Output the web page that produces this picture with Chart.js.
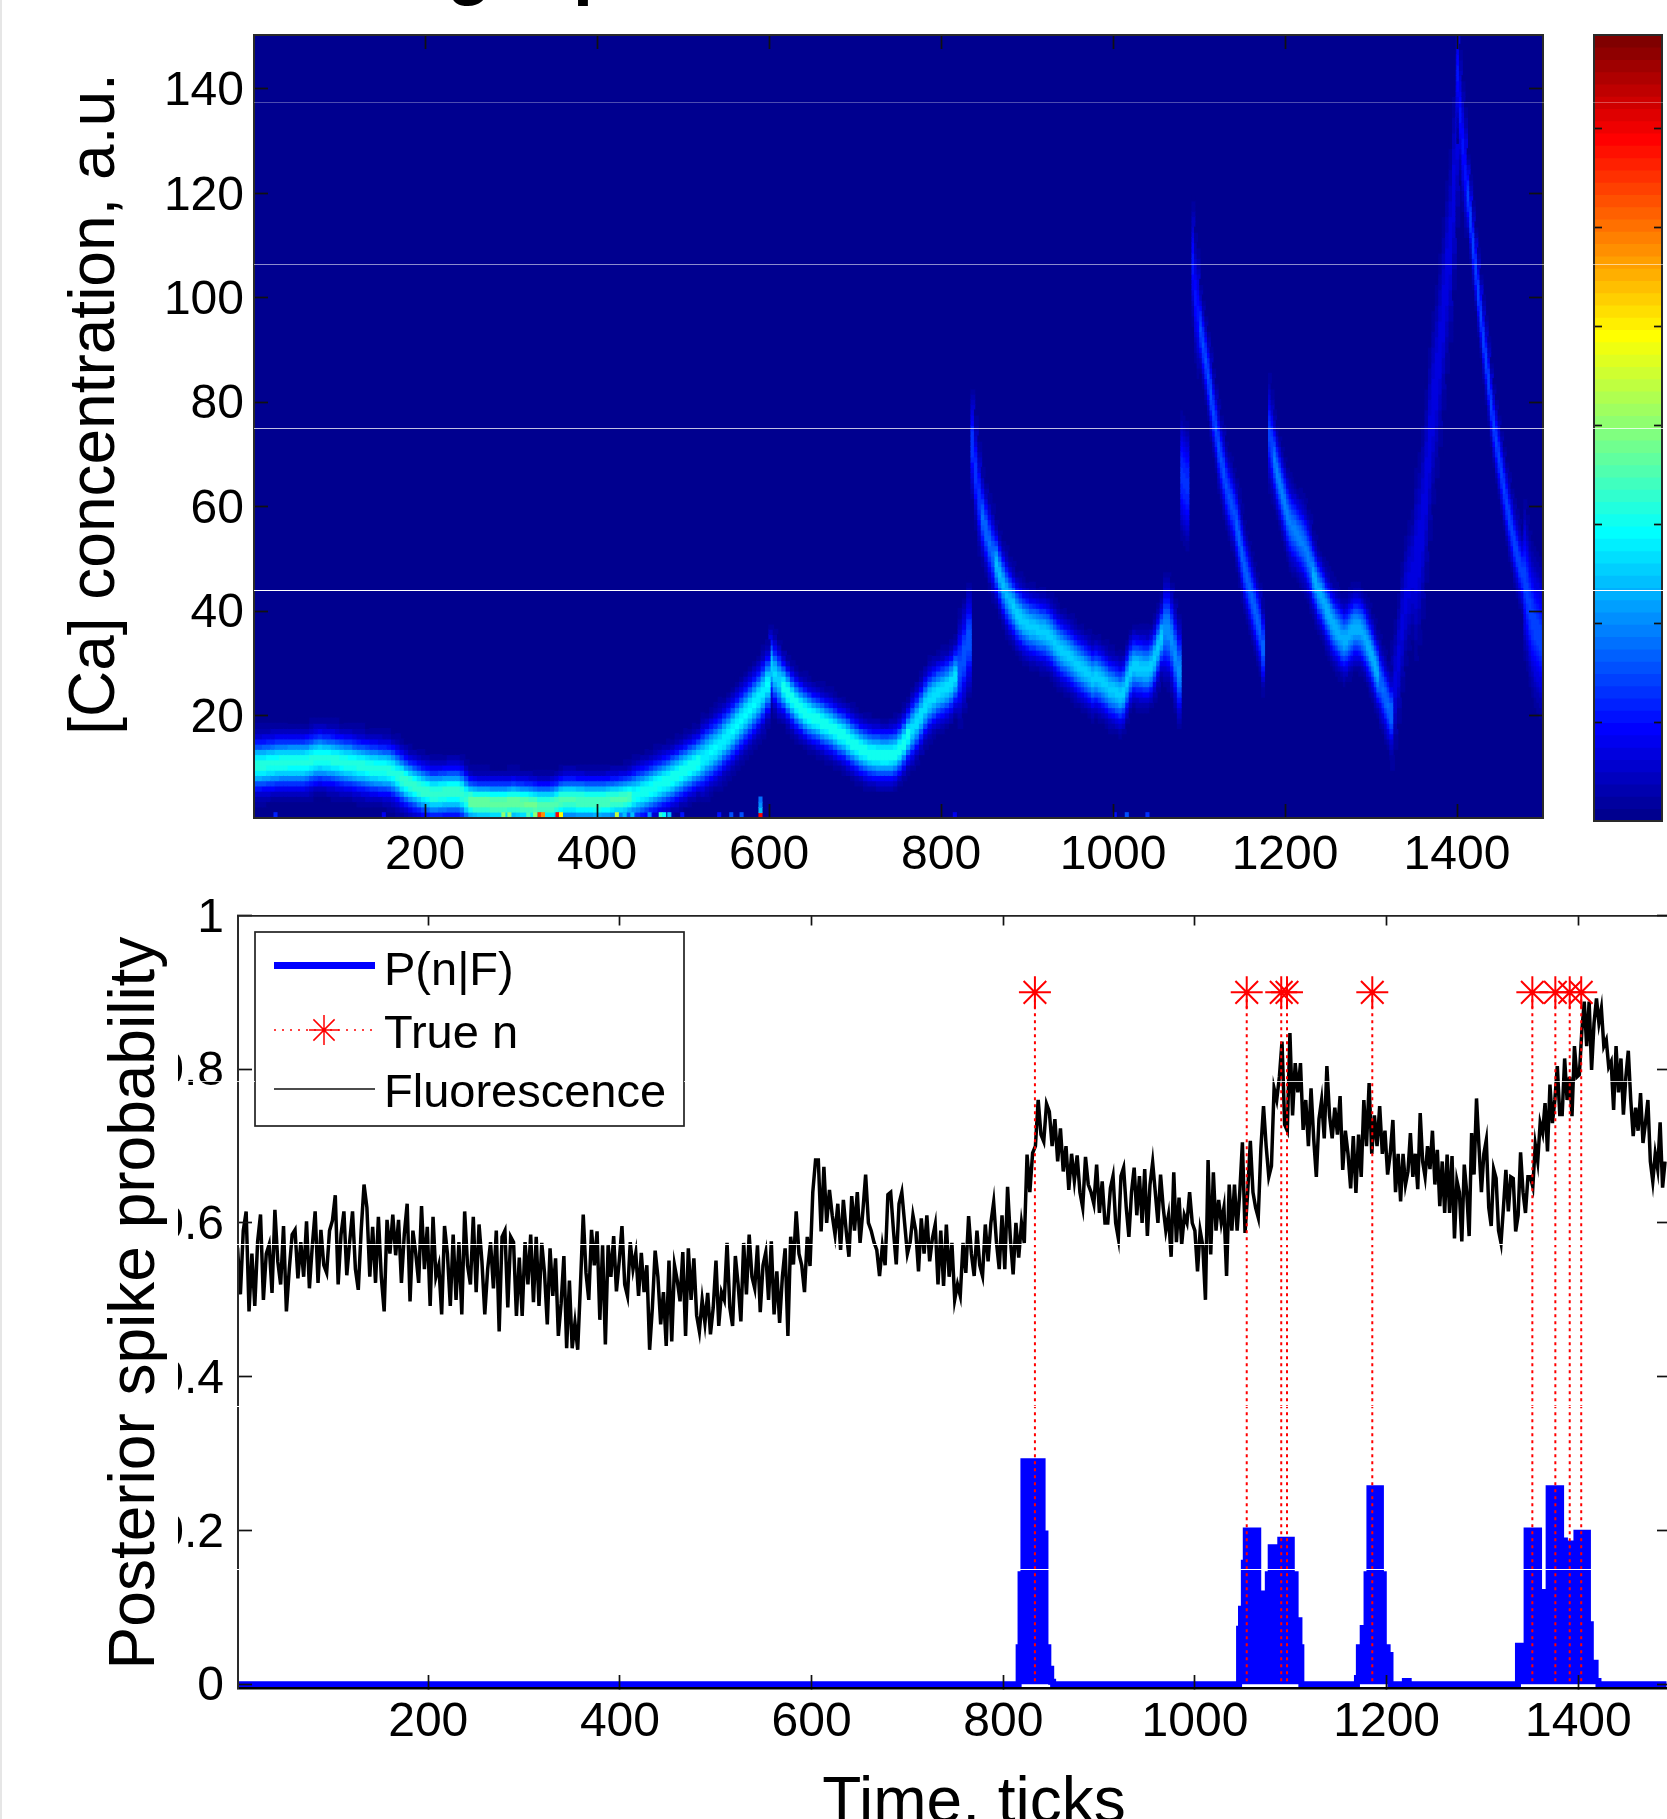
<!DOCTYPE html>
<html><head><meta charset="utf-8">
<style>
html,body{margin:0;padding:0;background:#fff;width:1667px;height:1819px;overflow:hidden;position:relative}
canvas{position:absolute;display:block;filter:blur(0.55px)}
.seam{position:absolute;height:1px;background:#fff}
#edge{position:absolute;left:0;top:0;width:2px;height:1819px;background:#e6e6e6}
</style>
<script src="https://cdn.jsdelivr.net/npm/chart.js"></script>
</head><body>
<canvas id="heat" width="1590" height="890" style="left:0;top:0"></canvas>
<canvas id="bar" width="77" height="890" style="left:1590px;top:0"></canvas>
<canvas id="post" width="1667" height="929" style="left:0;top:890px"></canvas>
<div id="edge"></div>
<script>
// ---------- top panel: axis labels ----------
const heatXTicks=[200,400,600,800,1000,1200,1400];
const heatYTicks=[20,40,60,80,100,120,140];
const colorbarTicks=[0.1,0.2,0.3,0.4,0.5,0.6,0.7];

// ---------- top panel: ridge of the posterior ----------
// each ridge: first tick, tick step, [Ca] at the ridge centre
const ridgeAStart=1, ridgeAStep=5;
const ridgeACa=[10.5,10.5,10.6,10.7,10.8,10.9,11,11,11.1,11.1,11.1,11.1,11.2,11.5,11.8,11.9,11.8,11.7,11.6,11.4,11.2,11,10.9,10.7,10.5,10.4,10.2,10,9.9,9.8,9.7,9.6,9.2,8.6,8,7.4,6.9,6.5,6.1,5.7,5.4,5.1,5.1,5.2,5.3,5.4,5.4,5.4,5,4.2,3.6,3.4,3.3,3.3,3.3,3.2,3.2,3.2,3.2,3.3,3.4,3.3,3.2,3.1,3,2.9,2.8,2.8,2.8,2.9,3.2,3.7,3.8,3.8,3.8,3.7,3.7,3.6,3.6,3.5,3.5,3.6,3.7,3.8,3.9,4,4.2,4.4,4.7,5,5.3,5.7,6.1,6.5,6.9,7.3,7.7,8.2,8.7,9.2,9.7,10.2,10.7,11.2,11.7,12.4,13.1,13.8,14.5,15.4,16.3,17.2,18.2,19.2,20.2,21.2,22.2,23.3,24.5,26];
const ridgeAUntil=[170,250,330,360,440,520,600], ridgeAPeak=[.40,.42,.47,.45,.44,.39,.36], ridgeASigma=[3,2.9,2.6,2.6,2.7,3,3.4];

const ridgeBStart=600, ridgeBStep=5;
const ridgeBCa=[29.5,27.8,26.6,25.5,24.3,23.2,22.2,21.4,20.7,20.1,19.6,19.2,18.7,18.2,17.8,17.2,16.6,16.2,15.5,14.8,14.2,13.6,13.2,12.8,12.6,12.5,12.4,12.4,12.5,12.8,13.6,14.8,16.2,17.5,18.8,20.2,21.8,23,23.8,24.4,24.9,25.4,26.2,27.4,29,31.5,34.5];
const ridgeBUntil=[612,730,760,818,835], ridgeBPeak=[.33,.39,.39,.34,.2], ridgeBSigma=[3.4,2.9,2.9,3.3,5];

const ridgeCStart=835, ridgeCStep=4;
const ridgeCCa=[72,66.5,61.5,58,55.5,53,51,49,47,45,43.4,42,40.8,39.6,38.7,38,37.5,37,36.8,36.5,36.2,36,35.5,34.8,34,33.2,32.5,32,31.4,30.8,30.2,29.6,29,28.4,27.8,27.2,27.4,27,26.4,25.8,25.2,24.8,24.4,24,24.6,26.5,28.5,29.4,29.3,29.1,28.9,28.8,29.5,31,33,35,36.5,36.3,34.5,31.5,28.5];
const ridgeCUntil=[845,860,880,1055,1075], ridgeCPeak=[.17,.22,.30,.32,.26], ridgeCSigma=[5,4,3.6,3.4,4.8];

const ridgeDStart=1079, ridgeDStep=3;
const ridgeDCa=[66,65,64];
const ridgeDUntil=[1090], ridgeDPeak=[.16], ridgeDSigma=[6];

const ridgeEStart=1092, ridgeEStep=3;
const ridgeECa=[106.6,100,97,94,91,88,85,81.5,78,75,71.5,69,66.5,64,62,60.5,59,56.5,54,51,48.5,46.5,44.5,42.5,40.5,38.5,36.5,33];
const ridgeEUntil=[1100,1140,1175], ridgeEPeak=[.13,.19,.21], ridgeESigma=[6,4,4];

const ridgeFStart=1181, ridgeFStep=3;
const ridgeFCa=[74,71.5,69,66.5,64.5,62.5,60.5,58.5,57,56,55.5,54.5,53.8,53,52,50.5,49,47,45.5,44,43.2,42,40.5,39.5,38.3,37.3,36.5,35.7,35,34.5,34.8,35.6,36.3,36.8,36.8,36.6,36,35,33.8,32.5,31.2,29.5,28,26.5,25,23.5,22,20.5];
const ridgeFUntil=[1185,1230,1308,1325], ridgeFPeak=[.18,.24,.29,.22], ridgeFSigma=[5,4,3.6,3.8];

const ridgeGStart=1323, ridgeGStep=4;
const ridgeGCa=[22,26,31,37,42,45,47,49,52,57,64,72,79,84,90,97,104,110,120,132];
const ridgeGUntil=[1350,1403], ridgeGPeak=[.085,.09], ridgeGSigma=[7,10];

const ridgeHStart=1400, ridgeHStep=3;
const ridgeHCa=[143,135,129,124,119.5,115,110,105.5,101,96.5,92,88,84,79.5,75.5,72.5,69.5,66.5,63.5,60.5,58,55.5,53,51,49,47.5,46,43.5,40.5,38.5,37,36,35,34];
const ridgeHUntil=[1411,1476,1501], ridgeHPeak=[.13,.18,.18], ridgeHSigma=[6,3.8,7];

// isolated bright cells in the lowest rows
const speckTicks=[26,152,291,298,320,328,333,337,354,358,423,432,441,461,474,478,484,499,542,556,568,590,590,590,590,816,1002,1016,1040];
const speckCa=[1,1,1,1,1,1,1,1,1,1,1,1,1,1,1,1,1,1,1,1,1,1,2,3,4,1,1,1,1];
const speckLevel=[.15,.1,.5,.5,.45,.5,.82,.72,.86,.62,.56,.3,.3,.25,.42,.36,.3,.13,.13,.2,.2,.86,.3,.26,.22,.1,.14,.2,.16];

// ---------- bottom panel ----------
const postXTicks=[200,400,600,800,1000,1200,1400];
const postYTicks=[0,.2,.4,.6,.8,1];
const postYLabels=['0','0.2','0.4','0.6','0.8','1'];

// posterior spike probability (stepped outline)
const pTicks=[1,816,818,821,841,844,847,850,852,1046,1048,1051,1053,1066,1070,1073,1076,1079,1089,1101,1105,1109,1111,1169,1171,1175,1179,1182,1194,1197,1201,1204,1219,1223,1337,1346,1359,1364,1369,1382,1386,1389,1398,1410,1413,1418,1421,1492];
const pVals=[0,.048,.143,.29,.196,.048,.02,.003,0,.072,.098,.158,.2,.118,.078,.028,.143,.178,.188,.143,.083,.048,0,.008,.048,.073,.143,.255,.143,.048,.038,0,.004,0,.05,.2,.12,.098,.255,.187,.143,.183,.197,.078,.028,.004,0,0];

// true spikes
const spikeTicks=[833,1054,1090,1096,1185,1352,1376,1391,1403];
const spikeMark=0.9;

// fluorescence, thousandths, read chunk by chunk
const fluorSpans=[[1,304],[304,607],[607,909],[909,1212],[1212,1493]];
const fluorA=[568,507,590,615,485,560,492,576,611,500,560,572,509,617,550,520,596,485,540,585,591,528,575,530,602,515,570,615,522,591,545,535,590,603,636,520,585,615,532,575,615,540,513,590,650,620,530,595,522,608,530,485,604,560,611,558,604,522,585,625,498,590,560,522,622,540,595,492,608,530,545,481,596,560,492,585,500,575,481,615,545,520,608,510,598,550,481,540,575,515,590,459,582,590,490,582,575,479,555,479,575];
const fluorB=[520,585,497,582,492,574,535,468,567,505,554,453,495,557,437,525,437,470,435,520,611,535,500,591,545,589,474,571,442,571,530,583,511,550,596,520,505,575,540,561,505,561,510,545,435,490,564,530,468,510,440,551,446,545,525,498,562,453,567,500,554,480,459,500,470,509,455,490,551,466,510,500,574,490,466,557,520,472,574,507,585,530,515,571,484,545,562,500,576,481,537,470,530,567,453,582,546,615,560,545,510,582,544,640,682];
const fluorC=[682,589,673,600,643,610,585,625,565,630,590,556,635,590,640,574,615,663,600,590,575,565,531,570,545,637,640,590,546,625,640,600,560,575,610,590,537,606,560,610,550,580,598,520,590,518,598,530,574,500,520,505,574,535,609,560,531,590,545,531,598,550,600,627,575,540,610,540,647,580,533,600,555,600,574,689,640,691,700,760,715,706,755,745,700,735,680,723,667,700,643,690,655,688,640,620,686,650,640,625,676,613,654,600];
const fluorD=[600,645,661,600,580,661,672,620,582,640,672,610,661,600,670,583,650,679,640,600,663,620,590,610,556,666,575,633,572,610,600,640,600,590,537,590,570,500,682,559,666,590,630,600,620,531,650,590,650,590,640,705,587,640,707,640,620,607,697,752,700,660,674,775,760,790,836,728,720,847,740,808,770,808,721,760,700,775,710,660,735,760,710,804,740,710,750,715,765,669,720,690,645,713,639,715,660,760,700,782,690,740,700,752,690,720,663,690,734,640];
const fluorE=[690,628,690,650,667,717,660,690,644,743,680,660,700,670,720,650,695,622,680,613,689,613,687,580,655,640,576,676,640,583,717,663,762,700,640,690,708,620,596,670,658,590,574,620,669,615,660,658,589,610,692,640,613,660,660,647,702,680,730,717,756,693,780,730,760,804,741,741,814,760,790,739,830,790,793,849,888,830,888,799,860,892,860,879,830,838,803,810,747,830,770,814,741,790,824,760,713,750,720,769,704,730,760,680,654,690,670,731,646,680];

// ---------- seams of the scanned picture (page row, strength, first column, last column) ----------
const seamRows=[[101.6,.3,254,1667],[263.7,.55,254,1667],[427.6,.75,254,1667],[590.3,1,254,1667],[1081,.8,178,255],[1081,.8,684,1667],[1243.5,1,178,1667],[1405.7,1,178,1667],[1568.6,1,178,1667]];
seamRows.forEach(s=>{const d=document.createElement('div');d.className='seam';d.style.top=Math.round(s[0])+'px';d.style.left=s[2]+'px';d.style.width=(s[3]-s[2])+'px';d.style.opacity=s[1];document.body.appendChild(d);});

const SANS='"Liberation Sans", Arial, sans-serif';

function jet(level){
  const f=Math.min(1,Math.max(0,level));
  const c=v=>Math.round(255*Math.min(1,Math.max(0,1.5-Math.abs(v))));
  // 64 discrete colours, as on the colour bar
  const q=(Math.min(63,Math.floor(f*64))+1)/64;
  return `rgb(${c(4*q-3)},${c(4*q-2)},${c(4*q-1)})`;
}
function bandIndex(until,t){let i=0;while(i<until.length-1&&t>until[i])i++;return i;}
function ridgeCells(start,step,ca,until,peak,sigma){
  const pts=[],cols=[];
  ca.forEach((centre,k)=>{
    const t=start+k*step,b=bandIndex(until,t);
    for(let c=1;c<=150;c++){
      const d=(c-centre)/sigma[b],lvl=peak[b]*Math.exp(-d*d/2);
      if(lvl<0.012)continue;
      pts.push({x:t+step/2,y:[c-0.5,c+0.56]});
      cols.push(jet(lvl));
    }
  });
  return {pts,cols};
}
function ridgeSet(start,step,ca,until,peak,sigma,order){
  const r=ridgeCells(start,step,ca,until,peak,sigma);
  return {type:'bar',label:'P(Ca|F)',data:r.pts,backgroundColor:r.cols,borderWidth:0,grouped:false,barThickness:step*0.86+0.7,order};
}
const speckData=speckTicks.map((t,i)=>({x:t,y:[speckCa[i]-0.6,speckCa[i]+0.45]}));
const heatSets=[
 {type:'bar',label:'cells',data:speckData,backgroundColor:speckLevel.map(jet),borderWidth:0,grouped:false,barThickness:3.4,order:0},
 ridgeSet(ridgeAStart,ridgeAStep,ridgeACa,ridgeAUntil,ridgeAPeak,ridgeASigma,1),
 ridgeSet(ridgeBStart,ridgeBStep,ridgeBCa,ridgeBUntil,ridgeBPeak,ridgeBSigma,2),
 ridgeSet(ridgeCStart,ridgeCStep,ridgeCCa,ridgeCUntil,ridgeCPeak,ridgeCSigma,3),
 ridgeSet(ridgeEStart,ridgeEStep,ridgeECa,ridgeEUntil,ridgeEPeak,ridgeESigma,4),
 ridgeSet(ridgeFStart,ridgeFStep,ridgeFCa,ridgeFUntil,ridgeFPeak,ridgeFSigma,5),
 ridgeSet(ridgeHStart,ridgeHStep,ridgeHCa,ridgeHUntil,ridgeHPeak,ridgeHSigma,6),
 ridgeSet(ridgeDStart,ridgeDStep,ridgeDCa,ridgeDUntil,ridgeDPeak,ridgeDSigma,7),
 ridgeSet(ridgeGStart,ridgeGStep,ridgeGCa,ridgeGUntil,ridgeGPeak,ridgeGSigma,8)
];

function fixedTicks(list){return s=>{s.ticks=list.map(v=>({value:v}));};}
function noMargins(s){s.paddingTop=0;s.paddingBottom=0;s.paddingLeft=0;s.paddingRight=0;}
function fitW(w){return s=>{s.width=w;noMargins(s);};}
function fitH(h){return s=>{s.height=h;noMargins(s);};}
function frameAxis(o){
  return Object.assign({
    grid:{drawOnChartArea:false,drawTicks:true,tickColor:'#111',tickWidth:1.7,tickLength:-14,z:1},
    border:{display:true,color:'#2a2a2a',width:2,z:1},
    ticks:{display:false,autoSkip:false,maxRotation:0,minRotation:0}
  },o);
}
function labelTicks(font,padding,cb,labelOffset){
  return {display:true,autoSkip:false,maxRotation:0,minRotation:0,color:'#000',font:{family:SANS,size:font},padding,callback:cb,labelOffset:labelOffset||0};
}
function rotated(ctx,text,x,y,size){
  ctx.save();ctx.translate(x,y);ctx.rotate(-Math.PI/2);
  ctx.font=`${size}px ${SANS}`;ctx.fillStyle='#000';ctx.textAlign='center';ctx.textBaseline='alphabetic';
  ctx.fillText(text,0,0);ctx.restore();
}

const heatPlugin={id:'heatFrame',
  beforeDatasetsDraw(c){const a=c.chartArea,x=c.ctx;x.save();x.fillStyle=jet(0);x.fillRect(a.left,a.top,a.width,a.height);x.restore();},
  afterDraw(c){const x=c.ctx;
    rotated(x,'[Ca] concentration, a.u.',114,404,64);
    // the chart title is cropped by the page edge; only its descenders remain
    x.save();x.font=`bold 72px ${SANS}`;x.fillStyle='#000';x.textBaseline='alphabetic';
    x.fillText('g',447,-9);x.fillText('p',573,-9);x.restore();
  }};

new Chart(document.getElementById('heat'),{
  data:{datasets:heatSets},
  plugins:[heatPlugin],
  options:{responsive:false,animation:false,events:[],devicePixelRatio:1,
    layout:{autoPadding:false,padding:{left:0,top:35,right:1590-1543,bottom:0}},
    plugins:{legend:{display:false},tooltip:{enabled:false}},
    scales:{
      x:frameAxis({type:'linear',position:'bottom',min:1,max:1500,offset:false,afterBuildTicks:fixedTicks(heatXTicks),afterFit:fitH(890-818),
        ticks:labelTicks(48,14+9,v=>String(v)),grid:{offset:false,drawOnChartArea:false,tickColor:'#111',tickWidth:1.7,tickLength:-14,z:1}}),
      y:frameAxis({type:'linear',position:'left',min:0.4,max:150.3,afterBuildTicks:fixedTicks(heatYTicks),afterFit:fitW(254),
        ticks:labelTicks(48,14+10,v=>String(v),3)}),
      x2:frameAxis({type:'linear',position:'top',min:1,max:1500,afterBuildTicks:fixedTicks(heatXTicks),afterFit:fitH(0)}),
      y2:frameAxis({type:'linear',position:'right',min:0.4,max:150.3,afterBuildTicks:fixedTicks(heatYTicks),afterFit:fitW(0)})
    }}
});

// ---------- colour bar ----------
const barLevels=Array.from({length:64},(_,i)=>i);
const barTop=0.794;
new Chart(document.getElementById('bar'),{
  data:{datasets:[{type:'bar',label:'colour scale',
    data:barLevels.map(i=>({x:0.5,y:[barTop*i/64,barTop*(i+1.05)/64]})),
    backgroundColor:barLevels.map(i=>jet(i/64)),borderWidth:0,grouped:false,barThickness:80}]},
  options:{responsive:false,animation:false,events:[],devicePixelRatio:1,
    layout:{autoPadding:false,padding:{left:0,top:35,right:77-72,bottom:0}},
    plugins:{legend:{display:false},tooltip:{enabled:false}},
    scales:{
      x:frameAxis({type:'linear',position:'bottom',min:0,max:1,offset:false,afterBuildTicks:fixedTicks([]),afterFit:fitH(890-821),grid:{offset:false,drawOnChartArea:false,drawTicks:false,z:1}}),
      y:frameAxis({type:'linear',position:'left',min:0,max:barTop,afterBuildTicks:fixedTicks(colorbarTicks),afterFit:fitW(4),grid:{drawOnChartArea:false,tickColor:'#111',tickWidth:1.7,tickLength:-8,z:1}}),
      x2:frameAxis({type:'linear',position:'top',min:0,max:1,afterBuildTicks:fixedTicks([]),afterFit:fitH(0),grid:{drawOnChartArea:false,drawTicks:false,z:1}}),
      y2:frameAxis({type:'linear',position:'right',min:0,max:barTop,afterBuildTicks:fixedTicks(colorbarTicks),afterFit:fitW(0),grid:{drawOnChartArea:false,tickColor:'#111',tickWidth:1.7,tickLength:-8,z:1}})
    }}
});

// ---------- posterior and fluorescence ----------
const fluorChunks=[fluorA,fluorB,fluorC,fluorD,fluorE];
const fluorData=fluorChunks.flatMap((vals,k)=>{
  const [a,b]=fluorSpans[k];
  return vals.map((v,i)=>({x:a+i*(b-a)/vals.length,y:v/1000}));
});
const stemData=spikeTicks.flatMap(t=>[{x:t,y:spikeMark},{x:t,y:0},{x:t,y:null}]);
const pData=pTicks.map((t,i)=>({x:t,y:pVals[i]}));

const postPlugin={id:'postLegend',
  afterDatasetsDraw(c){
    const x=c.ctx;x.save();
    // legend box
    x.fillStyle='#fff';x.strokeStyle='#222';x.lineWidth=1.7;
    x.fillRect(255,42,429,194);x.strokeRect(255,42,429,194);
    x.strokeStyle='#0000ff';x.lineWidth=7;x.beginPath();x.moveTo(274,75.5);x.lineTo(375,75.5);x.stroke();
    x.strokeStyle='#ff0000';x.lineWidth=1.5;x.setLineDash([2,6]);x.beginPath();x.moveTo(274,140);x.lineTo(375,140);x.stroke();x.setLineDash([]);
    const cx=324,cy=140,r=15,k=r*Math.SQRT1_2;
    x.beginPath();
    x.moveTo(cx-r,cy);x.lineTo(cx+r,cy);x.moveTo(cx,cy-r);x.lineTo(cx,cy+r);
    x.moveTo(cx-k,cy-k);x.lineTo(cx+k,cy+k);x.moveTo(cx-k,cy+k);x.lineTo(cx+k,cy-k);x.stroke();
    x.strokeStyle='#111';x.lineWidth=1.5;x.beginPath();x.moveTo(274,199);x.lineTo(375,199);x.stroke();
    x.fillStyle='#000';x.font=`47px ${SANS}`;x.textBaseline='middle';x.textAlign='left';
    x.fillText('P(n|F)',384,82);x.fillText('True n',384,145);x.fillText('Fluorescence',384,204);
    // white panel hiding the start of the left tick labels
    x.fillStyle='#fff';x.fillRect(2,100,176,720);
    x.restore();
  },
  afterDraw(c){
    const x=c.ctx;
    rotated(x,'Posterior spike probability',154,413,64);
    x.save();x.font=`64px ${SANS}`;x.fillStyle='#000';x.textAlign='center';x.textBaseline='alphabetic';
    x.fillText('Time, ticks',974,932);x.restore();
  }};

new Chart(document.getElementById('post'),{
  data:{datasets:[
    {type:'line',label:'True n',data:stemData,borderColor:'#ff0000',borderWidth:2,borderDash:[3,4],spanGaps:false,tension:0,
      pointStyle:'star',pointBorderColor:'#ff0000',pointBackgroundColor:'#ff0000',pointBorderWidth:2,
      pointRadius:ctx=>(ctx.raw&&ctx.raw.y>0?16:0),order:1},
    {type:'line',label:'Fluorescence',data:fluorData,borderColor:'#000',borderWidth:3.5,pointRadius:0,tension:0,order:2,borderJoinStyle:'miter'},
    {type:'line',label:'P(n|F)',data:pData,borderColor:'#0000ff',backgroundColor:'#0000ff',borderWidth:6,pointRadius:0,stepped:'before',fill:'origin',order:3}
  ]},
  plugins:[postPlugin],
  options:{responsive:false,animation:false,events:[],devicePixelRatio:1,
    layout:{autoPadding:false,padding:{left:0,top:25.5,right:0,bottom:0}},
    plugins:{legend:{display:false},tooltip:{enabled:false}},
    scales:{
      x:frameAxis({type:'linear',position:'bottom',min:1.5,max:1492.5,afterBuildTicks:fixedTicks(postXTicks),afterFit:fitH(929-798),
        ticks:labelTicks(48,13+6,v=>String(v)),grid:{drawOnChartArea:false,tickColor:'#111',tickWidth:1.7,tickLength:-13,z:1},border:{display:true,color:'#000',width:2.5,z:1}}),
      y:frameAxis({type:'linear',position:'left',min:-0.005,max:1,afterBuildTicks:fixedTicks(postYTicks),afterFit:fitW(238),
        ticks:labelTicks(48,14+14,v=>postYLabels[postYTicks.indexOf(v)],3)}),
      x2:frameAxis({type:'linear',position:'top',min:1.5,max:1492.5,afterBuildTicks:fixedTicks(postXTicks),afterFit:fitH(0),
        grid:{drawOnChartArea:false,tickColor:'#111',tickWidth:1.7,tickLength:-10,z:1},border:{display:true,color:'#222',width:1.7,z:1}}),
      y2:frameAxis({type:'linear',position:'right',min:-0.005,max:1,afterBuildTicks:fixedTicks(postYTicks),afterFit:fitW(0),
        grid:{drawOnChartArea:false,tickColor:'#111',tickWidth:1.7,tickLength:-10,z:1},border:{display:false}})
    }}
});
</script>
</body></html>
